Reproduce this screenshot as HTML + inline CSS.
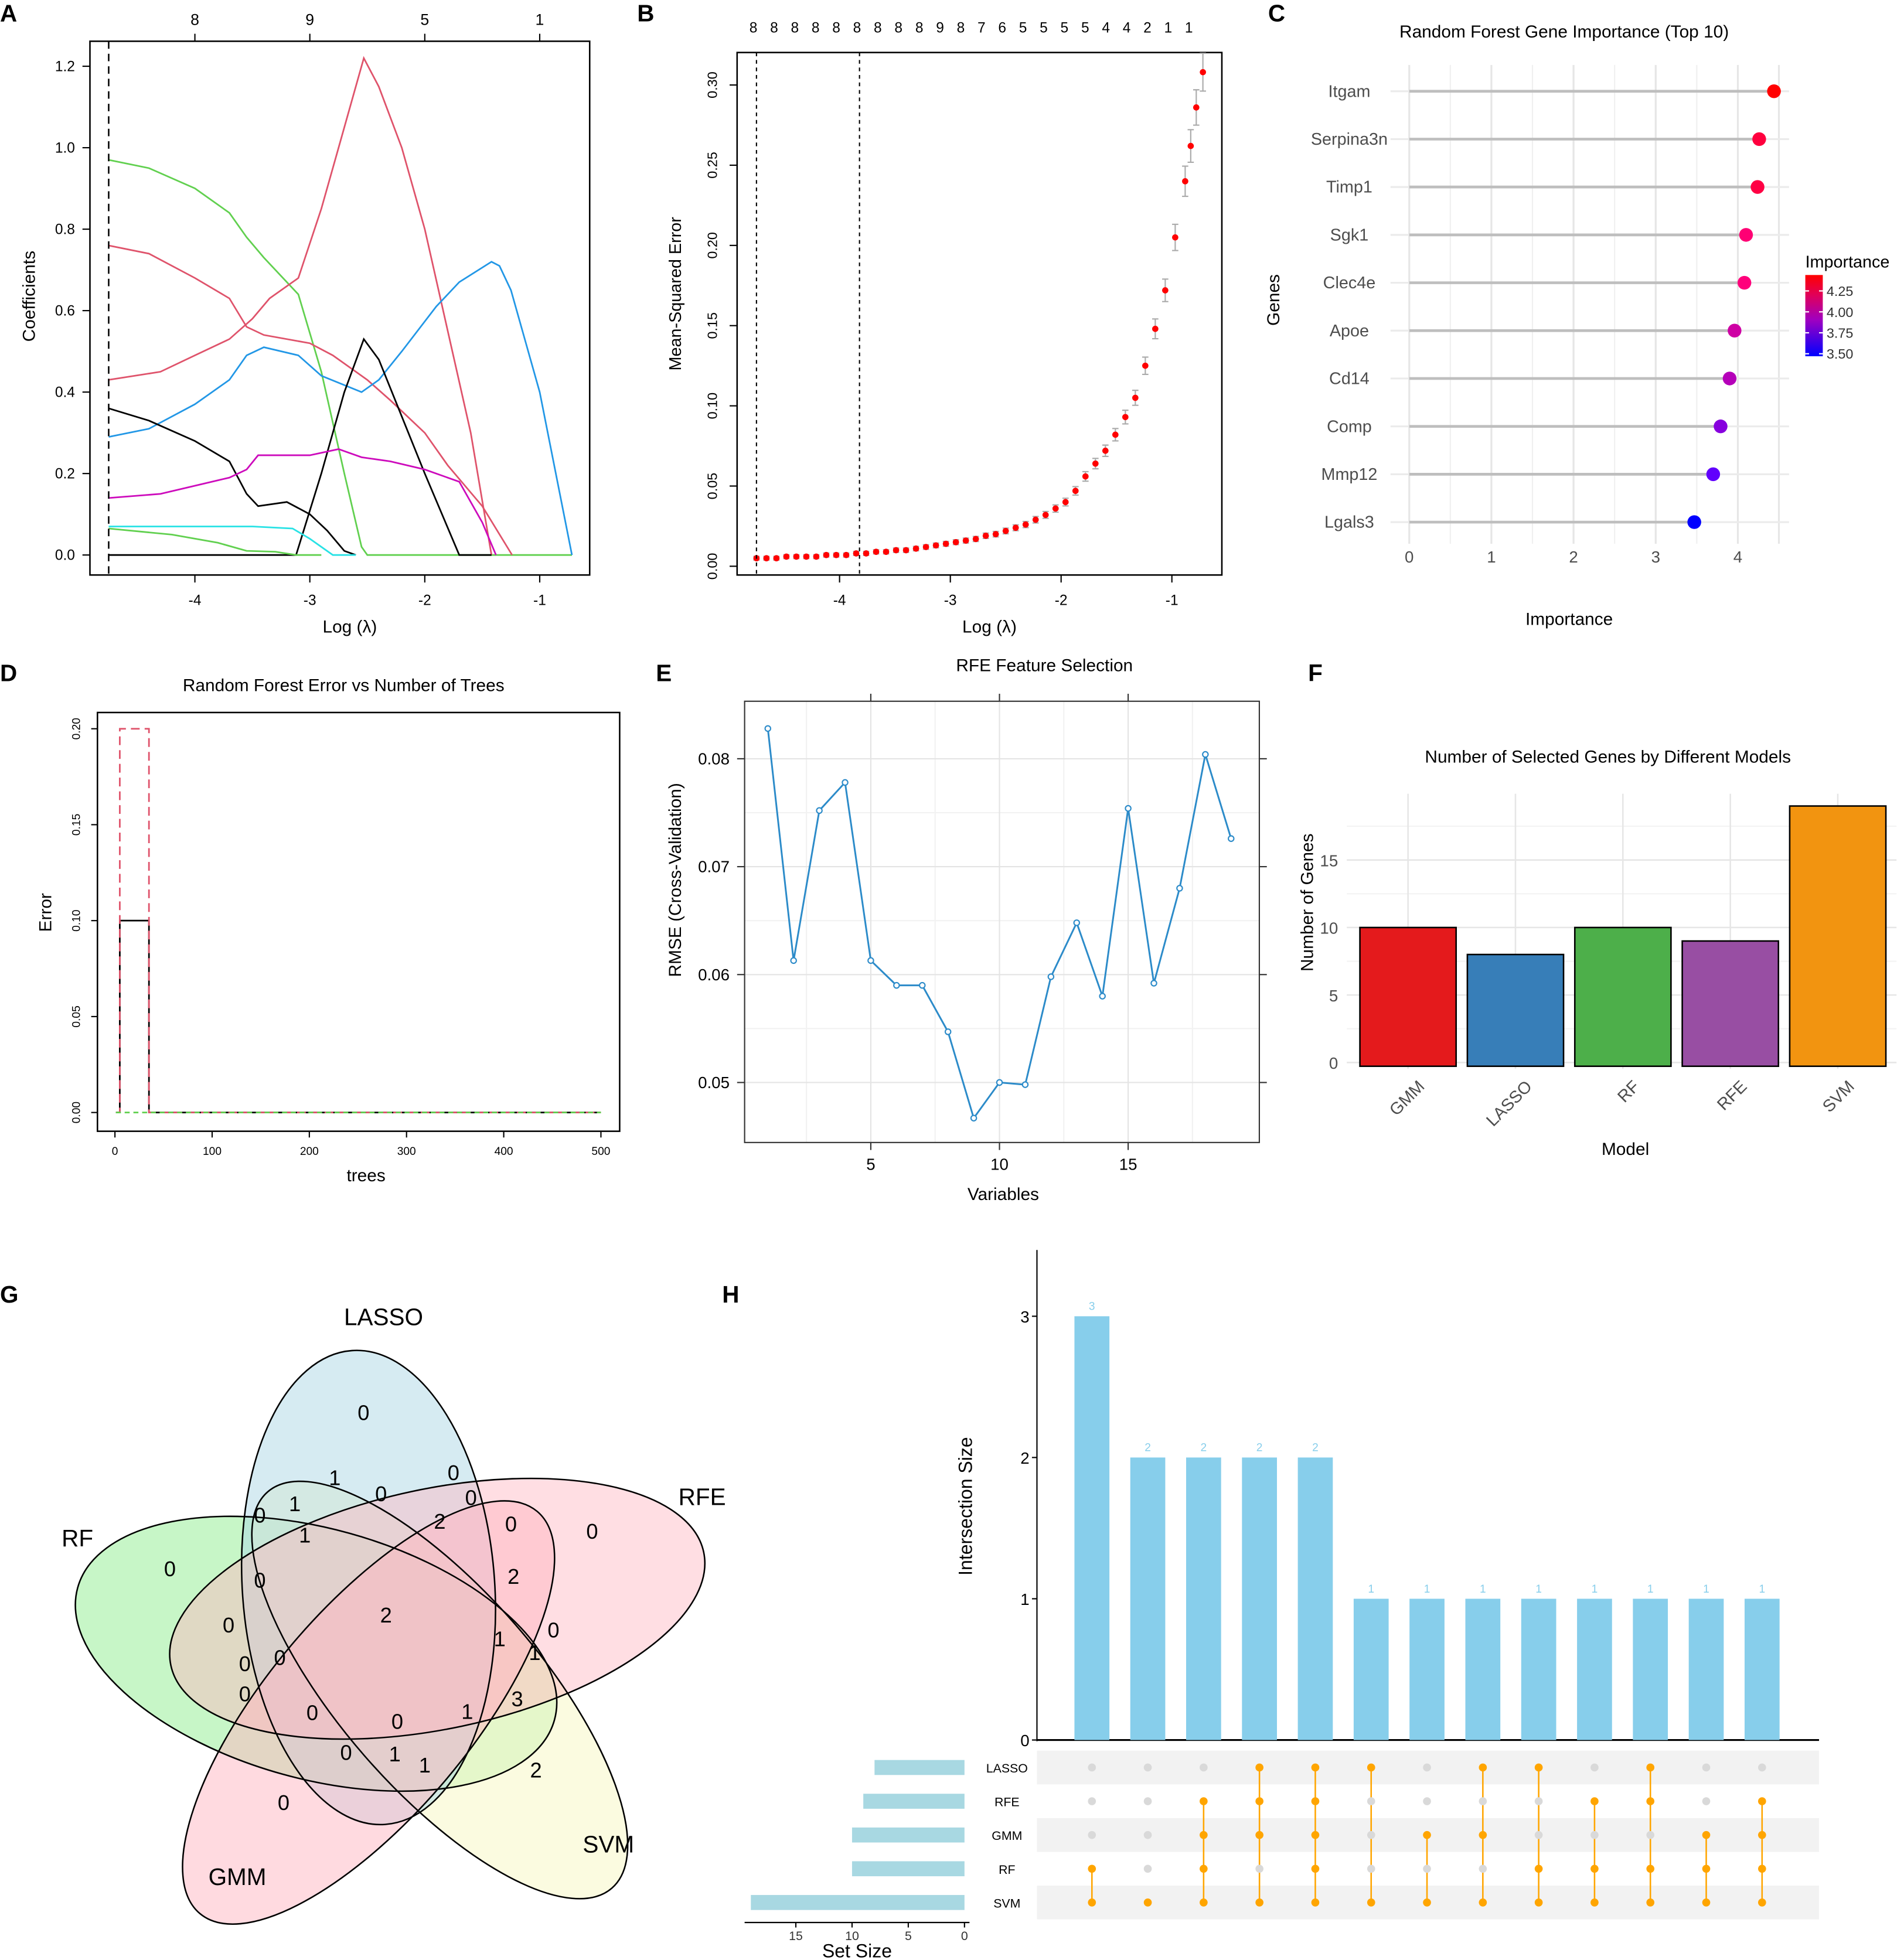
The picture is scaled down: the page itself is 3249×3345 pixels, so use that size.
<!DOCTYPE html>
<html><head><meta charset="utf-8">
<style>
html,body{margin:0;padding:0;background:#fff;}
svg{display:block;font-family:"Liberation Sans",Arial,sans-serif;}
</style></head>
<body>
<svg id="fig" xmlns="http://www.w3.org/2000/svg" width="3249" height="3345" viewBox="0 0 1524 1568" preserveAspectRatio="none">
<rect width="1524" height="1568" fill="#fff"/>
<g id="gA"></g>
<g id="gB"></g>
<g id="gC"></g>
<g id="gD"></g>
<g id="gE"></g>
<g id="gF"></g>
<g id="gG"></g>
<g id="gH"></g>
</svg>
<script>
// ---------- Panel A data ----------
const aTopTicks = ["8","9","5","1"];
const aTopPos = [-4,-3,-2,-1];
const aXTicks = [-4,-3,-2,-1];
const aYTicks = [0.0,0.2,0.4,0.6,0.8,1.0,1.2];
const aGreenX = [-4.75,-4.4,-4.0,-3.7,-3.55,-3.4,-3.1,-2.9,-2.7,-2.55,-2.5,-0.72];
const aGreenY = [0.97,0.95,0.90,0.84,0.78,0.73,0.64,0.45,0.2,0.02,0,0];
const aRed1X = [-4.75,-4.3,-4.0,-3.7,-3.5,-3.35,-3.1,-2.9,-2.75,-2.53,-2.4,-2.2,-2.0,-1.8,-1.6,-1.45,-1.42];
const aRed1Y = [0.43,0.45,0.49,0.53,0.58,0.63,0.68,0.85,1.0,1.22,1.15,1.0,0.8,0.55,0.3,0.05,0.0];
const aRed2X = [-4.75,-4.4,-4.0,-3.7,-3.55,-3.4,-3.0,-2.8,-2.5,-2.3,-2.0,-1.8,-1.5,-1.24];
const aRed2Y = [0.76,0.74,0.68,0.63,0.56,0.54,0.52,0.49,0.43,0.38,0.30,0.22,0.12,0.0];
const aBlueX = [-4.75,-4.4,-4.0,-3.7,-3.55,-3.4,-3.1,-2.9,-2.55,-2.4,-2.2,-1.9,-1.7,-1.42,-1.35,-1.25,-1.0,-0.72];
const aBlueY = [0.29,0.31,0.37,0.43,0.49,0.51,0.49,0.44,0.40,0.43,0.50,0.61,0.67,0.72,0.71,0.65,0.40,0.0];
const aBlk1X = [-4.75,-4.4,-4.0,-3.7,-3.55,-3.45,-3.2,-3.0,-2.85,-2.7,-2.6];
const aBlk1Y = [0.36,0.33,0.28,0.23,0.15,0.12,0.13,0.10,0.06,0.01,0.0];
const aBlk2X = [-4.75,-3.12,-2.9,-2.7,-2.53,-2.4,-2.2,-2.0,-1.7,-1.42];
const aBlk2Y = [0.0,0.0,0.2,0.4,0.53,0.48,0.34,0.2,0.0,0.0];
const aMagX = [-4.75,-4.3,-4.0,-3.7,-3.55,-3.45,-3.0,-2.75,-2.55,-2.3,-2.0,-1.7,-1.5,-1.38];
const aMagY = [0.14,0.15,0.17,0.19,0.21,0.245,0.245,0.26,0.24,0.23,0.21,0.18,0.08,0.0];
const aCyanX = [-4.75,-4.0,-3.5,-3.15,-3.0,-2.8,-2.6];
const aCyanY = [0.07,0.07,0.07,0.065,0.04,0.0,0.0];
const aLgX = [-4.75,-4.2,-3.8,-3.55,-3.3,-3.12,-2.9];
const aLgY = [0.065,0.05,0.03,0.01,0.008,0.0,0.0];
// ---------- Panel B data ----------
const bTopLabels = ["8","8","8","8","8","8","8","8","8","9","8","7","6","5","5","5","5","4","4","2","1","1"];
const bXTicks = [-4,-3,-2,-1];
const bYTicks = [0.00,0.05,0.10,0.15,0.20,0.25,0.30];
const bLogLambda = [-4.75,-4.66,-4.57,-4.48,-4.39,-4.30,-4.21,-4.12,-4.03,-3.94,-3.85,-3.76,-3.67,-3.58,-3.49,-3.40,-3.31,-3.22,-3.13,-3.04,-2.95,-2.86,-2.77,-2.68,-2.59,-2.50,-2.41,-2.32,-2.23,-2.14,-2.05,-1.96,-1.87,-1.78,-1.69,-1.60,-1.51,-1.42,-1.33,-1.24,-1.15,-1.06,-0.97,-0.88,-0.83,-0.78,-0.72];
const bMSE = [0.005,0.005,0.005,0.006,0.006,0.006,0.006,0.007,0.007,0.007,0.008,0.008,0.009,0.009,0.010,0.010,0.011,0.012,0.013,0.014,0.015,0.016,0.017,0.019,0.020,0.022,0.024,0.026,0.029,0.032,0.036,0.040,0.047,0.056,0.064,0.072,0.082,0.093,0.105,0.125,0.148,0.172,0.205,0.240,0.262,0.286,0.308];
const bVLines = [-4.75,-3.82];
// ---------- Panel C data ----------
const cGenes = ["Itgam","Serpina3n","Timp1","Sgk1","Clec4e","Apoe","Cd14","Comp","Mmp12","Lgals3"];
const cImportance = [4.44,4.26,4.24,4.10,4.08,3.96,3.90,3.79,3.70,3.47];
const cXTicks = [0,1,2,3,4];
const cLegendTicks = [3.50,3.75,4.00,4.25];
// ---------- Panel D data ----------
const dXTicks = [0,100,200,300,400,500];
const dYTicks = [0.00,0.05,0.10,0.15,0.20];
const dOOBTrees = [1,5,5,35,35,500];
const dOOBErr = [0,0,0.10,0.10,0,0];
const dClass2Trees = [1,5,5,35,35,500];
const dClass2Err = [0,0,0.20,0.20,0,0];
const dClass1Trees = [1,500];
const dClass1Err = [0,0];
// ---------- Panel E data ----------
const eVariables = [1,2,3,4,5,6,7,8,9,10,11,12,13,14,15,16,17,18,19];
const eRMSE = [0.0828,0.0613,0.0752,0.0778,0.0613,0.0590,0.0590,0.0547,0.0467,0.0500,0.0498,0.0598,0.0648,0.0580,0.0754,0.0592,0.0680,0.0804,0.0726];
const eXTicks = [5,10,15];
const eYTicks = [0.05,0.06,0.07,0.08];
// ---------- Panel F data ----------
const fModels = ["GMM","LASSO","RF","RFE","SVM"];
const fCounts = [10,8,10,9,19];
const fColors = ["#E41A1C","#377EB8","#4DAF4A","#984EA3","#F29410"];
const fYTicks = [0,5,10,15];
// ---------- Panel H data ----------
const hSets = ["LASSO","RFE","GMM","RF","SVM"];
const hSetSizes = [8,9,10,10,19];
const hIntersectSizes = [3,2,2,2,2,1,1,1,1,1,1,1,1];
const hMembership = [
 [0,0,0,1,1],[0,0,0,0,1],[0,1,1,1,1],[1,1,1,0,1],[1,1,1,1,1],[1,0,0,0,1],[0,0,1,0,1],
 [1,0,1,0,1],[1,0,0,1,1],[0,1,0,1,1],[1,1,0,1,1],[0,0,1,1,1],[0,1,1,1,1]];
const hYTicks = [0,1,2,3];
const hSizeTicks = [15,10,5,0];

const NS="http://www.w3.org/2000/svg";
function mk(parent,tag,attrs,text){const e=document.createElementNS(NS,tag);for(const k in attrs)e.setAttribute(k,attrs[k]);if(text!==undefined)e.textContent=text;parent.appendChild(e);return e;}
function lin(d0,d1,r0,r1){return v=>r0+(v-d0)*(r1-r0)/(d1-d0);}
function panelLetter(g,x,y,t){const e=mk(g,'text',{x:x,y:y,'font-size':19,'font-weight':'bold'},t);}

// ===== Panel A =====
(function(){
const g=document.getElementById('gA');
const X=lin(-4,-1,156,432), Y=lin(0,1.2,444,53);
panelLetter(g,0,17,'A');
let r=mk(g,'rect',{x:72,y:33,width:400,height:427,fill:'none',stroke:'#000','stroke-width':1.2});

aYTicks.forEach(v=>{mk(g,'line',{x1:66,x2:72,y1:Y(v),y2:Y(v),stroke:'#000'});
 let t=mk(g,'text',{x:60,y:Y(v)+4,'font-size':11.5,'text-anchor':'end'},v.toFixed(1));});
aXTicks.forEach(v=>{mk(g,'line',{x1:X(v),x2:X(v),y1:460,y2:466,stroke:'#000'});
 let t=mk(g,'text',{x:X(v),y:484,'font-size':11.5,'text-anchor':'middle'},String(v));});
aTopPos.forEach((v,i)=>{mk(g,'line',{x1:X(v),x2:X(v),y1:27,y2:33,stroke:'#000'});
 let t=mk(g,'text',{x:X(v),y:20,'font-size':12.5,'text-anchor':'middle'},aTopTicks[i]);});
let t=mk(g,'text',{x:0,y:0,'font-size':14,'text-anchor':'middle',transform:'translate(28,237) rotate(-90)'},'Coefficients');
t=mk(g,'text',{x:280,y:506,'font-size':14,'text-anchor':'middle'},'Log (λ)');
const series=[[aGreenX,aGreenY,'#61D04F','green'],[aRed2X,aRed2Y,'#DF536B','red-2'],[aRed1X,aRed1Y,'#DF536B','red-1'],[aBlueX,aBlueY,'#2297E6','blue'],[aBlk2X,aBlk2Y,'#000','black-2'],[aBlk1X,aBlk1Y,'#000','black-1'],[aMagX,aMagY,'#CD0BBC','magenta'],[aCyanX,aCyanY,'#28E2E5','cyan'],[aLgX,aLgY,'#61D04F','light-green']];
series.forEach(s=>{const p=s[0].map((x,i)=>X(x).toFixed(1)+','+Y(s[1][i]).toFixed(1)).join(' ');
 const e=mk(g,'polyline',{points:p,fill:'none',stroke:s[2],'stroke-width':1.3});});
const d=mk(g,'line',{x1:X(-4.75),x2:X(-4.75),y1:33,y2:460,stroke:'#000','stroke-dasharray':'6,4','stroke-width':1.2});
})();

// ===== Panel B =====
(function(){
const g=document.getElementById('gB');
const X=lin(-4,-1,672,938), Y=lin(0,0.30,453,68);
panelLetter(g,510,17,'B');
let r=mk(g,'rect',{x:590,y:42,width:388,height:418,fill:'none',stroke:'#000','stroke-width':1.2});
bYTicks.forEach(v=>{mk(g,'line',{x1:584,x2:590,y1:Y(v),y2:Y(v),stroke:'#000'});
 let t=mk(g,'text',{x:0,y:0,'font-size':11,'text-anchor':'middle',transform:`translate(574,${Y(v)}) rotate(-90)`},v.toFixed(2));});
bXTicks.forEach(v=>{mk(g,'line',{x1:X(v),x2:X(v),y1:460,y2:466,stroke:'#000'});
 let t=mk(g,'text',{x:X(v),y:484,'font-size':11.5,'text-anchor':'middle'},String(v));});
bTopLabels.forEach((l,i)=>{let t=mk(g,'text',{x:603+i*16.6,y:26,'font-size':11.5,'text-anchor':'middle'},l);});
let t=mk(g,'text',{x:0,y:0,'font-size':13.5,'text-anchor':'middle',transform:'translate(545,235) rotate(-90)'},'Mean-Squared Error');
t=mk(g,'text',{x:792,y:506,'font-size':14,'text-anchor':'middle'},'Log (λ)');
bLogLambda.forEach((x,i)=>{const m=bMSE[i], se=m*0.035+0.001;
 const eb=mk(g,'path',{d:`M${X(x)-2.5},${Y(m+se)}H${X(x)+2.5}M${X(x)},${Y(m+se)}V${Y(m-se)}M${X(x)-2.5},${Y(m-se)}H${X(x)+2.5}`,stroke:'#aaa','stroke-width':1,fill:'none'});
 
 const c=mk(g,'circle',{cx:X(x),cy:Y(m),r:2.5,fill:'#FF0000'});});
bVLines.forEach(v=>{const l=mk(g,'line',{x1:X(v),x2:X(v),y1:42,y2:460,stroke:'#000','stroke-dasharray':'3,3'});});
})();

// ===== Panel C =====
(function(){
const g=document.getElementById('gC');
const X=lin(0,4,1128,1391); const rowY=i=>73+i*38.3;
panelLetter(g,1015,17,'C');
let t=mk(g,'text',{x:1252,y:30,'font-size':14,'text-anchor':'middle'},'Random Forest Gene Importance (Top 10)');
[0.5,1.5,2.5,3.5].forEach(v=>mk(g,'line',{x1:X(v),x2:X(v),y1:52,y2:435,stroke:'#f0f0f0','stroke-width':1}));
cXTicks.forEach(v=>{mk(g,'line',{x1:X(v),x2:X(v),y1:52,y2:435,stroke:'#e6e6e6','stroke-width':1.5});
 let tt=mk(g,'text',{x:X(v),y:450,'font-size':13,'text-anchor':'middle',fill:'#4d4d4d'},String(v));});
mk(g,'line',{x1:X(4.5),x2:X(4.5),y1:52,y2:435,stroke:'#e6e6e6','stroke-width':1.5});
function col(v){const f=Math.max(0,Math.min(1,(v-3.47)/(4.44-3.47)));const r=Math.round(255*Math.min(1,f*1.6)),b=Math.round(255*Math.min(1,(1-f)*1.3));return `rgb(${r},0,${b})`;}
cGenes.forEach((gname,i)=>{const y=rowY(i);
 mk(g,'line',{x1:1113,x2:1432,y1:y,y2:y,stroke:'#ebebeb','stroke-width':1.5});
 const s=mk(g,'line',{x1:X(0),x2:X(cImportance[i]),y1:y,y2:y,stroke:'#bebebe','stroke-width':2.2});
 const c=mk(g,'circle',{cx:X(cImportance[i]),cy:y,r:5.5,fill:col(cImportance[i])});
 const l=mk(g,'text',{x:1080,y:y+4.5,'font-size':13.5,'text-anchor':'middle',fill:'#4d4d4d'},gname);});
t=mk(g,'text',{x:0,y:0,'font-size':14,'text-anchor':'middle',transform:'translate(1024,240) rotate(-90)'},'Genes');
t=mk(g,'text',{x:1256,y:500,'font-size':14,'text-anchor':'middle'},'Importance');
const defs=mk(g,'defs',{});const lg=mk(defs,'linearGradient',{id:'cbar',x1:0,y1:1,x2:0,y2:0});
mk(lg,'stop',{offset:'0','stop-color':'#0000FF'});mk(lg,'stop',{offset:'0.45','stop-color':'#A000C0'});mk(lg,'stop',{offset:'0.75','stop-color':'#E0005A'});mk(lg,'stop',{offset:'1','stop-color':'#FF0000'});
const cb=mk(g,'rect',{x:1445,y:220,width:14,height:65,fill:'url(#cbar)'});
t=mk(g,'text',{x:1445,y:214,'font-size':13.5},'Importance');
const LY=lin(3.47,4.44,285,220);
cLegendTicks.forEach(v=>{mk(g,'line',{x1:1445,x2:1448,y1:LY(v),y2:LY(v),stroke:'#fff'});mk(g,'line',{x1:1456,x2:1459,y1:LY(v),y2:LY(v),stroke:'#fff'});
 let tt=mk(g,'text',{x:1462,y:LY(v)+4,'font-size':11,fill:'#333'},v.toFixed(2));});
})();

// ===== Panel D =====
(function(){
const g=document.getElementById('gD');
const X=lin(0,500,92,481), Y=lin(0,0.20,890,583);
panelLetter(g,0,545,'D');
let t=mk(g,'text',{x:275,y:553,'font-size':14,'text-anchor':'middle'},'Random Forest Error vs Number of Trees');
let r=mk(g,'rect',{x:78,y:570,width:418,height:335,fill:'none',stroke:'#000','stroke-width':1.2});
dYTicks.forEach(v=>{mk(g,'line',{x1:73,x2:78,y1:Y(v),y2:Y(v),stroke:'#000'});
 let tt=mk(g,'text',{x:0,y:0,'font-size':9,'text-anchor':'middle',transform:`translate(64,${Y(v)}) rotate(-90)`},v.toFixed(2));});
dXTicks.forEach(v=>{mk(g,'line',{x1:X(v),x2:X(v),y1:905,y2:910,stroke:'#000'});
 let tt=mk(g,'text',{x:X(v),y:924,'font-size':9,'text-anchor':'middle'},String(v));});
t=mk(g,'text',{x:0,y:0,'font-size':14,'text-anchor':'middle',transform:'translate(41,730) rotate(-90)'},'Error');
t=mk(g,'text',{x:293,y:945,'font-size':14,'text-anchor':'middle'},'trees');
const S=[[dOOBTrees,dOOBErr,'#000','none','oob-error'],[dClass2Trees,dClass2Err,'#DF536B','7,4','class2-error'],[dClass1Trees,dClass1Err,'#61D04F','4,3','class1-error']];
S.forEach(s=>{const p=s[0].map((x,i)=>X(x)+','+Y(s[1][i])).join(' ');const e=mk(g,'polyline',{points:p,fill:'none',stroke:s[2],'stroke-width':1.3,'stroke-dasharray':s[3]});});
})();

// ===== Panel E =====
(function(){
const g=document.getElementById('gE');
const X=lin(5,15,697,903), Y=lin(0.05,0.08,866,607);
panelLetter(g,525,545,'E');
let t=mk(g,'text',{x:836,y:537,'font-size':14,'text-anchor':'middle'},'RFE Feature Selection');
[2.5,7.5,12.5,17.5].forEach(v=>mk(g,'line',{x1:X(v),x2:X(v),y1:561,y2:914,stroke:'#f2f2f2'}));
[0.055,0.065,0.075].forEach(v=>mk(g,'line',{x1:596,x2:1008,y1:Y(v),y2:Y(v),stroke:'#f2f2f2'}));
eXTicks.forEach(v=>{mk(g,'line',{x1:X(v),x2:X(v),y1:561,y2:914,stroke:'#e4e4e4'});mk(g,'line',{x1:X(v),x2:X(v),y1:914,y2:920,stroke:'#333'});mk(g,'line',{x1:X(v),x2:X(v),y1:555,y2:561,stroke:'#333'});
 let tt=mk(g,'text',{x:X(v),y:936,'font-size':13,'text-anchor':'middle'},String(v));});
eYTicks.forEach(v=>{mk(g,'line',{x1:596,x2:1008,y1:Y(v),y2:Y(v),stroke:'#e4e4e4'});mk(g,'line',{x1:590,x2:596,y1:Y(v),y2:Y(v),stroke:'#333'});mk(g,'line',{x1:1008,x2:1014,y1:Y(v),y2:Y(v),stroke:'#333'});
 let tt=mk(g,'text',{x:584,y:Y(v)+4.5,'font-size':13,'text-anchor':'end'},v.toFixed(2));});
let r=mk(g,'rect',{x:596,y:561,width:412,height:353,fill:'none',stroke:'#333','stroke-width':1});
t=mk(g,'text',{x:0,y:0,'font-size':14,'text-anchor':'middle',transform:'translate(545,704) rotate(-90)'},'RMSE (Cross-Validation)');
t=mk(g,'text',{x:803,y:960,'font-size':14,'text-anchor':'middle'},'Variables');
const p=eVariables.map((x,i)=>X(x)+','+Y(eRMSE[i])).join(' ');
const l=mk(g,'polyline',{points:p,fill:'none',stroke:'#2C8BC9','stroke-width':1.4});
eVariables.forEach((x,i)=>{const c=mk(g,'circle',{cx:X(x),cy:Y(eRMSE[i]),r:2.2,fill:'#fff',stroke:'#2C8BC9','stroke-width':1});});
})();

// ===== Panel F =====
(function(){
const g=document.getElementById('gF');
const Y=lin(0,15,850,688);
panelLetter(g,1047,545,'F');
let t=mk(g,'text',{x:1287,y:610,'font-size':14,'text-anchor':'middle'},'Number of Selected Genes by Different Models');
[2.5,7.5,12.5,17.5].forEach(v=>mk(g,'line',{x1:1078,x2:1518,y1:Y(v),y2:Y(v),stroke:'#f3f3f3'}));
fYTicks.forEach(v=>{mk(g,'line',{x1:1078,x2:1518,y1:Y(v),y2:Y(v),stroke:'#e6e6e6','stroke-width':1.2});
 let tt=mk(g,'text',{x:1071,y:Y(v)+5,'font-size':13,'text-anchor':'end',fill:'#4d4d4d'},String(v));});
fModels.forEach((m,i)=>{const cx=1127+i*86;mk(g,'line',{x1:cx,x2:cx,y1:635,y2:855,stroke:'#e6e6e6','stroke-width':1.2});});
fModels.forEach((m,i)=>{const cx=1127+i*86;
 const b=mk(g,'rect',{x:cx-38.5,y:Y(fCounts[i]),width:77,height:Y(0)-Y(fCounts[i])+3,fill:fColors[i],stroke:'#000','stroke-width':1.2});
 const l=mk(g,'text',{x:0,y:0,'font-size':13.5,'text-anchor':'end',fill:'#4d4d4d',transform:`translate(${cx+14},${870}) rotate(-45)`},m);});
t=mk(g,'text',{x:0,y:0,'font-size':14,'text-anchor':'middle',transform:'translate(1051,722) rotate(-90)'},'Number of Genes');
t=mk(g,'text',{x:1301,y:924,'font-size':14,'text-anchor':'middle'},'Model');
})();

// ===== Panel G (Venn) =====
(function(){
const g=document.getElementById('gG');
panelLetter(g,0,1042,'G');
const ells=[
 ['rf',253,1323,198,100,15.5,'#90EE90',0.5],
 ['svm',352,1352,210,80,49,'#F8F8CC',0.6],
 ['lasso',295,1270,101,190,-4,'#ADD8E6',0.5],
 ['gmm',295,1370,210,82,-50,'#FFB6C1',0.5],
 ['rfe',350,1287,218,96,-12,'#FFB6C1',0.45]];
ells.forEach(e=>{const el=mk(g,'ellipse',{cx:e[1],cy:e[2],rx:e[3],ry:e[4],transform:`rotate(${e[5]} ${e[1]} ${e[2]})`,fill:e[6],'fill-opacity':e[7],stroke:'none'});});
ells.forEach(e=>{mk(g,'ellipse',{cx:e[1],cy:e[2],rx:e[3],ry:e[4],transform:`rotate(${e[5]} ${e[1]} ${e[2]})`,fill:'none',stroke:'#000','stroke-width':1.2});});
const nums=[[291,1130,'0'],[268,1182,'1'],[305,1195,'0'],[363,1178,'0'],[377,1198,'0'],[236,1203,'1'],[208,1212,'0'],[244,1228,'1'],[352,1217,'2'],[409,1219,'0'],[474,1225,'0'],[136,1255,'0'],[208,1264,'0'],[411,1261,'2'],[309,1292,'2'],[183,1300,'0'],[443,1304,'0'],[400,1311,'1'],[428,1322,'1'],[224,1326,'0'],[196,1331,'0'],[196,1355,'0'],[414,1359,'3'],[250,1370,'0'],[318,1377,'0'],[374,1369,'1'],[429,1416,'2'],[277,1402,'0'],[316,1403,'1'],[340,1412,'1'],[227,1442,'0']];
nums.forEach(n=>{const t=mk(g,'text',{x:n[0],y:n[1]+6,'font-size':17,'text-anchor':'middle'},n[2]);});
const labs=[[307,1060,'LASSO'],[562,1204,'RFE'],[62,1237,'RF'],[190,1508,'GMM'],[487,1482,'SVM']];
labs.forEach(n=>{const t=mk(g,'text',{x:n[0],y:n[1],'font-size':19,'text-anchor':'middle'},n[2]);});
})();

// ===== Panel H (UpSet) =====
(function(){
const g=document.getElementById('gH');
panelLetter(g,578,1042,'H');
const Y=lin(0,3,1392,1053); const colX=i=>874+i*44.7; const rowY=j=>1414+j*27;
hSets.forEach((s,j)=>{if(j%2===0){const b=mk(g,'rect',{x:830,y:rowY(j)-13.5,width:626,height:27,fill:'#F2F2F2'});}});
mk(g,'line',{x1:830,x2:830,y1:1000,y2:1393,stroke:'#000','stroke-width':1});
mk(g,'line',{x1:830,x2:1456,y1:1392,y2:1392,stroke:'#000','stroke-width':1.5});
hYTicks.forEach(v=>{mk(g,'line',{x1:826,x2:830,y1:Y(v),y2:Y(v),stroke:'#000'});
 const t=mk(g,'text',{x:824,y:Y(v)+5,'font-size':13,'text-anchor':'end'},String(v));});
let t=mk(g,'text',{x:0,y:0,'font-size':15,'text-anchor':'middle',transform:'translate(778,1205) rotate(-90)'},'Intersection Size');
hIntersectSizes.forEach((v,i)=>{const x=colX(i);
 const b=mk(g,'rect',{x:x-14,y:Y(v),width:28,height:Y(0)-Y(v),fill:'#87CEEB'});
 const l=mk(g,'text',{x:x,y:Y(v)-5,'font-size':9,'text-anchor':'middle',fill:'#87CEEB'},String(v));});
hMembership.forEach((m,i)=>{const x=colX(i);const on=m.map((v,j)=>v?j:-1).filter(j=>j>=0);
 if(on.length>1){const l=mk(g,'line',{x1:x,x2:x,y1:rowY(on[0]),y2:rowY(on[on.length-1]),stroke:'#FFA500','stroke-width':1.2});}
 m.forEach((v,j)=>{const c=mk(g,'circle',{cx:x,cy:rowY(j),r:3.2,fill:v?'#FFA500':'#D9D9D9'});});});
const SX=lin(0,15,772,637);
hSets.forEach((s,j)=>{const b=mk(g,'rect',{x:SX(hSetSizes[j]),y:rowY(j)-6,width:SX(0)-SX(hSetSizes[j]),height:12,fill:'#A8D8E2'});
 const l=mk(g,'text',{x:806,y:rowY(j)+4,'font-size':10,'text-anchor':'middle'},s);});
mk(g,'line',{x1:596,x2:776,y1:1538,y2:1538,stroke:'#000'});
hSizeTicks.forEach(v=>{mk(g,'line',{x1:SX(v),x2:SX(v),y1:1538,y2:1542,stroke:'#000'});
 const l=mk(g,'text',{x:SX(v),y:1552,'font-size':10,'text-anchor':'middle',fill:'#333'},String(v));});
t=mk(g,'text',{x:686,y:1566,'font-size':15,'text-anchor':'middle'},'Set Size');
})();
</script>
</body></html>
